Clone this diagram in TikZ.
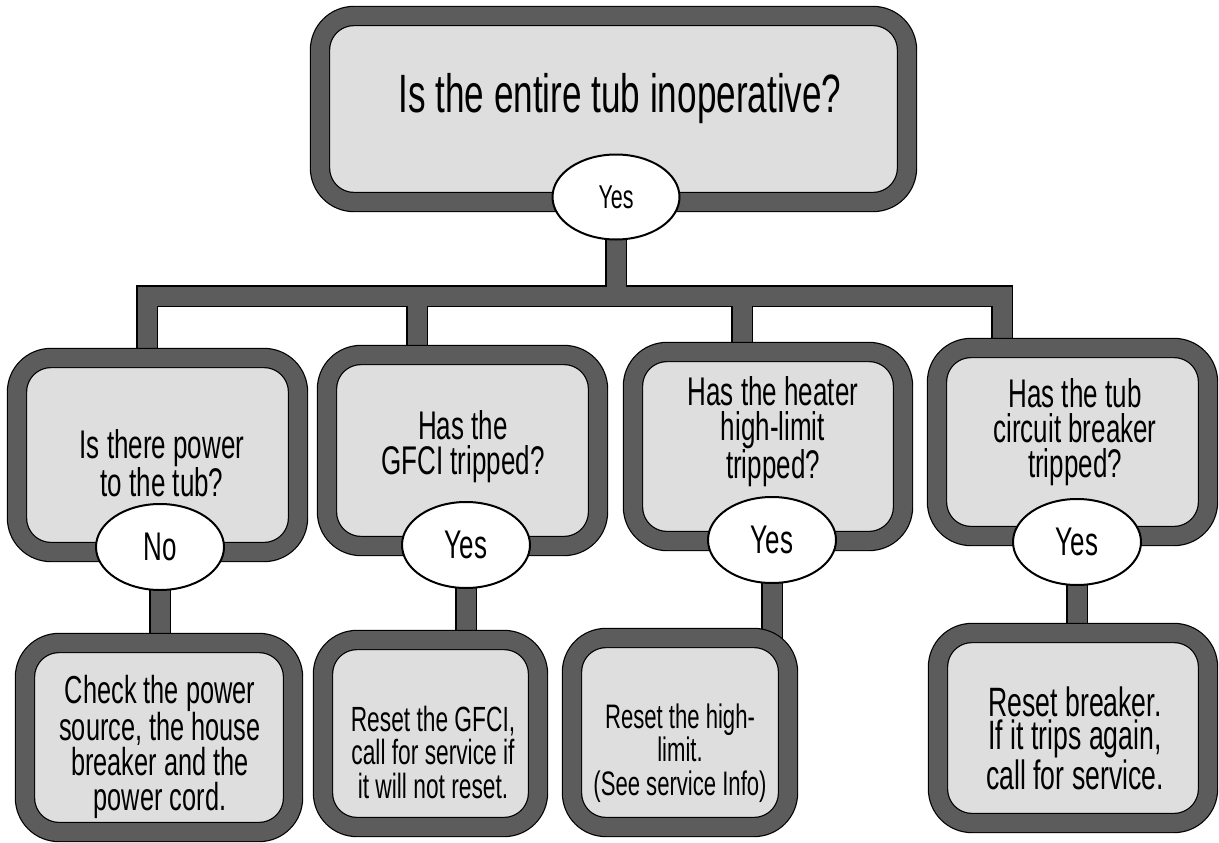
\documentclass[tikz,border=0pt]{standalone}
\usepackage{fontspec}
\setmainfont{Liberation Sans}[FakeStretch=0.65]
\usetikzlibrary{shapes.geometric,backgrounds}
\definecolor{rimgray}{gray}{0.36}
\definecolor{panelgray}{gray}{0.87}
\tikzset{
	panel/.style={draw=black, line width=1.2pt, double=rimgray, double distance=18pt,
		fill=panelgray, rounded corners=34pt, inner sep=0pt},
	reply/.style={ellipse, draw=black, line width=2pt, fill=white, inner sep=0pt,
		minimum width=128pt, minimum height=86pt, font=\fontsize{40}{40}\selectfont},
	asktext/.style={align=center, font=\fontsize{40}{35}\selectfont},
	dotext/.style={align=center, font=\fontsize{#1}{33.5}\selectfont},
	bus/.style={draw=rimgray, line width=19pt, line join=miter,
		preaction={draw=black, line width=22pt, line join=miter}}
}
\begin{document}
\begin{tikzpicture}[x=1pt, y=-1pt]
	\useasboundingbox (0,0) rectangle (1219,843);
	%top question
	\node[panel, minimum width=587pt, minimum height=186pt] (top) at (613.5,109) {};
	\node[font=\fontsize{54}{54}\selectfont] (toptext) at (620,99) {Is the entire tub inoperative?};
	\node[reply, minimum width=127pt, minimum height=85pt, font=\fontsize{33}{33}\selectfont] (topyes) at (616,197) {Yes};
	%questions
	\node[panel, minimum width=281pt, minimum height=194pt] (q1) at (157.5,455) {};
	\node[panel, minimum width=271pt, minimum height=191pt] (q2) at (462.5,450.5) {};
	\node[panel, minimum width=270pt, minimum height=189pt] (q3) at (768,446.5) {};
	\node[panel, minimum width=271pt, minimum height=188pt] (q4) at (1072.5,442) {};
	\node[asktext] (q1text) at (162,463) {Is there power\\to the tub?};
	\node[asktext] (q2text) at (463,447) {Has the\\GFCI tripped?};
	\node[asktext] (q3text) at (773,432) {Has the heater\\high-limit\\tripped?};
	\node[asktext] (q4text) at (1075,432) {Has the tub\\circuit breaker\\tripped?};
	%replies
	\node[reply] (r1) at (160,547) {No};
	\node[reply] (r2) at (466,545) {Yes};
	\node[reply] (r3) at (772,540) {Yes};
	\node[reply] (r4) at (1077,542) {Yes};
	%actions
	\node[panel, minimum width=268pt, minimum height=189pt] (a1) at (159,737.5) {};
	\node[panel, minimum width=215pt, minimum height=187pt] (a2) at (430.5,733.5) {};
	\node[panel, minimum width=216pt, minimum height=189pt] (a3) at (680,732.5) {};
	\node[panel, minimum width=270pt, minimum height=190pt] (a4) at (1073,728) {};
	\node[dotext=39, font=\fontsize{39}{35}\selectfont] (a1text) at (160,747) {Check the power\\source, the house\\breaker and the\\power cord.};
	\node[dotext=35] (a2text) at (433,752) {Reset the GFCI,\\call for service if\\it will not reset.};
	\node[dotext=34] (a3text) at (680,753) {Reset the high-\\limit.\\(See service Info)};
	\node[dotext=41] (a4text) at (1075,738) {Reset breaker.\\If it trips again,\\call for service.};
	%connectors
	\coordinate (busL) at (147,296);
	\coordinate (tap2) at (417,296);
	\coordinate (tap3) at (742,296);
	\coordinate (busR) at (1002,296);
	\begin{scope}[on background layer]
		\draw[bus] (busL |- q1.center) -- (busL) -- (busR) -- (busR |- q4.center)
		(topyes.center) -- (topyes.center |- busL)
		(tap2) -- (tap2 |- q2.center)
		(tap3) -- (tap3 |- q3.center)
		(r1.center) -- (r1.center |- a1.center)
		(r2.center) -- (r2.center |- a2.center)
		(r3.center) -- (r3.center |- a3.center)
		(r4.center) -- (r4.center |- a4.center);
	\end{scope}
\end{tikzpicture}
\end{document}
